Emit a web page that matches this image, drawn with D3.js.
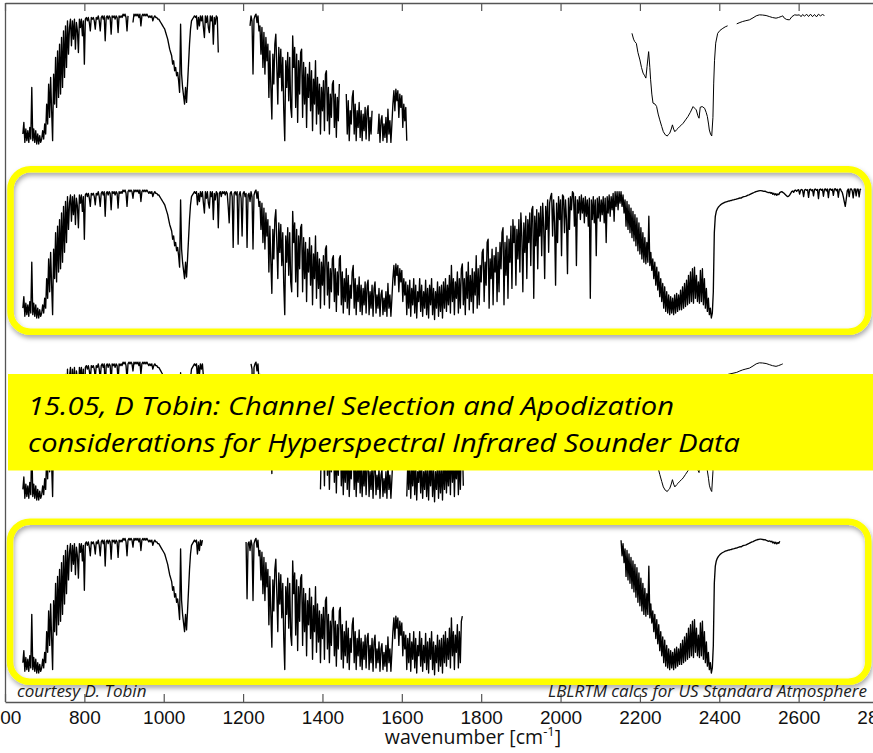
<!DOCTYPE html>
<html>
<head>
<meta charset="utf-8">
<script src="https://cdn.jsdelivr.net/npm/d3@7"></script>
<style>
html,body{margin:0;padding:0;background:#fff;}
svg{display:block;}
</style>
</head>
<body>
<svg id="chart" width="873" height="753"></svg>
<script>
// ---------------- DATA ----------------
const tickValues = [600, 800, 1000, 1200, 1400, 1600, 1800, 2000, 2200, 2400, 2600, 2800];
const axisTitle = "wavenumber [cm";
const bannerLines = [
  "15.05, D Tobin: Channel Selection and Apodization",
  "considerations for Hyperspectral Infrared Sounder Data"
];
const leftNote = "courtesy D. Tobin";
const rightNote = "LBLRTM calcs for US Standard Atmosphere";

// High-resolution brightness temperature spectrum (K), 2.5 cm-1 sampling,
// each segment = [start wavenumber]
const spectrumStep = 2.5;
const segLongwaveCO2 = [645, [222,229,217,225,218,224,217,226,219,250,218,225,217,224,216,222,216,221,217]];
const segRise = [692.5, [219,224,219,228,222,240,228,252,232,256,236,218,258,240,268,238,272,244,276,246,280,250,284,256,287,262,290,270]];
const segWindowEdge = [762.5, [286,291,275,290,279,291,273,289,284,271,291,286,291,281,290,264]];
const segWindow = [802.5, [291,292,290,292,289,284,292,291,292,290,
  285,292,291,293,290,284,292,293,291,293,
  278,292,293,291,293,292,282,293,292,293,
  291,293,292,283,293,292,293,292,294,293,
  294,292,284,293,294,293,294,293,289,294,
  293,294,293,294,292,294,287,293,294,293,
  294,293,294,293,292,293,292,293,290]];
const segOzone = [975, [292,293,292,292,291,291,290,289,288,287,
  286,285,283,281,279,276,273,271,269,264,
  266,260,262,257,259,254,247,288,258,250,
  245,240,250,241,252,264,276,285,290,291,292]];
const segWindow2 = [1077.5, [293,292,293,285,292,287,293,290,293,286,
  280,293,289,293,286,283,293,290,293,276,
  292,288,293,292,271,292,293,290,293,292,
  293,291,293,292]];
const segWindow3 = [1162.5, [284,274,292,293,290,259,292,293,291,293,
  261,291,293,289,266,292,293,290,292,259,
  291,292,287,293,290,258,291,293,294,289,
  293,284]];
const segWater1 = [1242.5, [287,270,286,262,283,258,280,266,276,244,
  272,250,231,270,252,276,282,262,240,274,
  256,273,248,268,236,218,266,250,271,242,
  268,238,232]];
const segWater2 = [1325, [281,262,274,238,270,229,266,246,271,273,
  232,265,240,262,226,258,244,265,236,260,
  224,255,240,266,228,256,234,252,222,250,
  236,254,224]];
const segWater3 = [1407.5, [258,260,230,250,222,246,232,252,254,226,
  246,220,244,230,252,254,224,244,219,240,
  226,246,222,242,218,236,228,244,248,222,
  240,218,236,226,241,220,236,218,234,224,
  238,219,236,239,218,232,222,236,217,234,
  238,219,230,222,234,217,230,233,218,228,
  220,232,217,237,222,230,217,228]];
const segWaterBump = [1577.5, [240,248,236,249,242,248,232,246,238,245,226,240,230]];
const segWater4 = [1610, [238,218,236,222,239,217,234,224,240,219,
  236,216,232,226,240,220,236,217,232,222,
  239,218,234,216,236,224,240,218,234,215,
  232,222,238,217,235,220,236,216,238,222,
  240]];
const segWater5 = [1712.5, [220,236,224,242,219,248,226,240,218,238,
  228,244,219,240,222,246,249,224,240,218,
  244,228,250,221,242,226,246,219,244,230,
  254,222,246]];
const segWater6 = [1795, [224,248,238,256,258,226,250,236,262,264,
  222,252,240,258,224,254,244,259,226,256,
  232,262,246,268,271,224,262,242,266,228,
  264,250,272,234]];
const segWater7 = [1880, [276,262,272,236,270,252,276,244,280,266,
  232,274,256,278,240,276,262,280,248,282,
  284,228,278,260,282,246,280,266,284,254,
  286,272,240]];
const segWater8 = [1962.5, [284,270,288,256,286,290,292,266,288,274,
  236,286,262,290,276,288,254,291,290,268,
  288,276,243,289,270,290,282,293,292,272,
  290,248,288,280]];
const segCO = [2047.5, [290,276,291,280,289,274,290,278,288,272,
  289,228,288,276,290,274,288,254,289,277,
  290,275,288,279,290,274,289,262,290,280,
  291,278,290,282,292,275,293,284,293,282,
  293,286,293,284,291,280]];
const segN2O = [2162.5, [288,272,287,270,285,268,283,265,281,263,
  279,260,277,257,274,255,271,252,268,250,
  265,249,262,250,278,248,256,245,252,240,
  250,236,247,233,244,229,240,226,237,222,
  235]];
const segCO2sw = [2265, [220,232,219,230,218,229,219,228,218,230,
  219,231,220,230,221,233,221,235,222,237,
  223,239,224,242,225,244,226,246,225,247,
  228,242,226,238,225,245,226,246,224,240,
  222,234,220,228,218,222,216,219]];
const segShortwave = [2385, [232,268,278,281,282.5,283.5,284.2,284.8,285.3,285.7,
  286,286.3,286.6,286.8,287,287.2,287.3,287.5,287.6,287.8,
  288,288.1,288.3,288.4,288.6,288.8,289,289.2,289.1,289.5,
  289.8,290,290.1,290.3,290.6,290.9,291.1,291.4,291.7,292,
  292.2,292.5,292.8,293,293.2,293.4,293.5,293.6,293.6,293.5,
  293.4,293.2,293.3,293,292.8,292.5,292.4,292.6,292,292.4,
  291.4,292,291,291.8,290.8,291.6,291.2,292.4,292.8,293,
  292.6,292.2,291.6,291,290.4,290,290.3,291,292,293,
  293.4,292.6,293.8,294,293.2,294,294.2,291.5,294,294.3,
  293.8,290,294,294.4,293.8,294.2,289.5,294.2,294.5,293.6,
  294.2,290.5,294.4,294.6,293.8,294.4,288.8,294.3,294.6,293.9,
  294.5,290.2,294.4,294.7,293.5,294.6,289.4,294.4,294.7,293.8,
  294.5,290.8,294.6,294.8,293.6,294.5,289.6,294.4,294.7,293.5,
  292.5,290,287,284,288.5,293.5,294.6,290,294.5,294.7,
  293.6,289.2,294.5,294.7,290.4,294.6,294.5,289.8,294.4,294.5]];

// Low-resolution shortwave spectrum (wavenumber, K)
const swLowRes = [
  [2180,282.5],[2184,279],[2187,277.5],[2191,276.5],[2195,271],[2200,266.5],[2204,262],[2208,258.6],
  [2212,257],[2215,255.6],[2218,262.6],[2222,271.5],[2225,262],[2227,254.6],[2230,246],[2233,240.6],
  [2238,240],[2242,238.6],[2246,234],[2250,230.5],[2255,226.5],[2259,223.4],[2264,221.5],[2269,220.8],
  [2272,221.8],[2275,222.4],[2279,225],[2282,227.5],[2285,225],[2288,223.4],[2292,224.5],[2296,225.4],
  [2300,226.5],[2305,227.5],[2309,228.5],[2315,230.5],[2321,232.5],[2327,235],[2334,238.5],[2338,237.5],
  [2342,236.5],[2346,233],[2349,231.5],[2352,238.1],[2357,238.5],[2363,237.5],[2367,235],[2370,232.5],
  [2373,228],[2375,224.4],[2378,222],[2381,220.8],[2384,232],[2386,252.6],[2388,266],[2391,276.6],
  [2396,282.5],[2402,284.3],[2409,285.5],[2415,286.4],[2421,287],
  [2444,288.2],[2452,289],[2459,289.6],[2467,290.1],[2476,290.6],[2485,291.8],[2493,293],[2501,293.6],
  [2509,293.5],[2518,293.2],[2526,292.6],[2534,292],[2543,291.6],[2549,292],[2556,292.6],[2560,293],
  [2564,291.6],[2570,290.8],[2577,290.6],[2583,292.5],[2590,293.6],[2596,293.4],[2602,293.6],[2606,292.5],
  [2610,293.8],[2615,292.8],[2620,294],[2625,292.6],[2630,294],[2635,292.5],[2640,293.8],[2645,292.4],
  [2650,294],[2655,293],[2660,293.8],[2665,293.2]
];

// Spectral bands shown for each instrument panel
const panel1Bands = [[645,910],[922,1137.5],[1217,1443],[1460,1527],[1540,1613]];
const panel1LowResBands = [[2180,2421],[2444,2665]];
const panel2Bands = [[645,2757.5]];
const panel3Bands = [[645,1100],[1220,1302],[1395,1590],[1612,1757]];
const panel3LowResBands = [[2150,2560]];
const panel4Bands = [[645,1097.5],[1207.5,1752.5],[2152.5,2552.5]];

// ---------------- BUILD ----------------
const segments = [segLongwaveCO2, segRise, segWindowEdge, segWindow, segOzone, segWindow2, segWindow3,
  segWater1, segWater2, segWater3, segWaterBump, segWater4, segWater5, segWater6, segWater7, segWater8,
  segCO, segN2O, segCO2sw, segShortwave];
const hiRes = [];
segments.forEach(([start, vals]) => vals.forEach((v, i) => hiRes.push([start + i * spectrumStep, v])));
hiRes.sort((a, b) => a[0] - b[0]);

const W = 873, H = 753;
const svg = d3.select("#chart");
svg.append("rect").attr("width", W).attr("height", H).attr("fill", "#fff");

const defs = svg.append("defs");
const f = defs.append("filter").attr("id", "shadow")
  .attr("x", "-5%").attr("y", "-15%").attr("width", "110%").attr("height", "135%");
f.append("feDropShadow").attr("dx", 1).attr("dy", 3).attr("stdDeviation", 2.5)
  .attr("flood-color", "#000").attr("flood-opacity", 0.35);

const x = d3.scaleLinear().domain([600, 2800]).range([5, 878]);
const btDomain = [210, 300];

const panels = [
  {range: [154, 4.2], bands: panel1Bands, low: panel1LowResBands},
  {range: [327.8, 180.2], bands: panel2Bands, low: []},
  {range: [510.6, 351.5], bands: panel3Bands, low: panel3LowResBands},
  {range: [683.4, 528.1], bands: panel4Bands, low: []}
];

const plot = svg.append("g");
panels.forEach(p => {
  const y = d3.scaleLinear().domain(btDomain).range(p.range);
  const line = d3.line().x(d => x(d[0])).y(d => y(d[1]));
  p.bands.forEach(([lo, hi]) => {
    const pts = hiRes.filter(d => d[0] >= lo && d[0] <= hi);
    plot.append("path").attr("d", line(pts)).attr("fill", "none")
      .attr("stroke", "#000").attr("stroke-width", 1.35).attr("stroke-linejoin", "round");
  });
  p.low.forEach(([lo, hi]) => {
    const pts = swLowRes.filter(d => d[0] >= lo && d[0] <= hi);
    plot.append("path").attr("d", line(pts)).attr("fill", "none")
      .attr("stroke", "#000").attr("stroke-width", 1).attr("stroke-linejoin", "round");
  });
});

// axes
const axisColor = "#555";
const gb = svg.append("g").attr("transform", "translate(0,702)")
  .call(d3.axisBottom(x).tickValues(tickValues).tickSizeInner(-8).tickSizeOuter(0)
    .tickPadding(9).tickFormat(d3.format("d")));
const gt = svg.append("g").attr("transform", "translate(0,3)")
  .call(d3.axisTop(x).tickValues(tickValues).tickSizeInner(-8).tickSizeOuter(0).tickFormat(""));
[gb, gt].forEach(g => {
  g.select(".domain").attr("stroke", axisColor).attr("stroke-width", 1.3);
  g.selectAll(".tick line").attr("stroke", axisColor).attr("stroke-width", 1.2);
});
gb.selectAll(".tick text").attr("fill", "#111")
  .style("font-family", "'Liberation Sans', Arial, sans-serif").style("font-size", "19px");
svg.append("line").attr("x1", 5.5).attr("x2", 5.5).attr("y1", 3).attr("y2", 702)
  .attr("stroke", axisColor).attr("stroke-width", 1.3);

// axis title
const at = svg.append("text").attr("x", 473).attr("y", 744).attr("text-anchor", "middle")
  .style("font-family", "'Open Sans', sans-serif").style("font-size", "19.5px").attr("fill", "#111");
at.append("tspan").text(axisTitle);
at.append("tspan").attr("dy", -8).style("font-size", "13px").text("-1");
at.append("tspan").attr("dy", 8).text("]");

// notes
svg.append("text").attr("x", 17).attr("y", 697).text(leftNote)
  .style("font-family", "'Open Sans', sans-serif").style("font-style", "italic")
  .style("font-size", "17px").attr("fill", "#222");
svg.append("text").attr("x", 867).attr("y", 697).attr("text-anchor", "end").text(rightNote)
  .style("font-family", "'Open Sans', sans-serif").style("font-style", "italic")
  .style("font-size", "17px").attr("fill", "#222");

// yellow highlight boxes
const boxes = [
  {x: 10.5, y: 169.3, w: 857.8, h: 162.4},
  {x: 10, y: 521.7, w: 858.3, h: 160}
];
svg.selectAll(".hl").data(boxes).enter().append("rect").attr("class", "hl")
  .attr("x", d => d.x).attr("y", d => d.y).attr("width", d => d.w).attr("height", d => d.h)
  .attr("rx", 20).attr("ry", 20).attr("fill", "none")
  .attr("stroke", "#FFFF00").attr("stroke-width", 6.5).attr("filter", "url(#shadow)");

// banner
svg.append("rect").attr("x", 8).attr("y", 374).attr("width", 870).attr("height", 96.5).attr("fill", "#FFFF00");
const bannerLens = [646, 712];
bannerLines.forEach((t, i) => {
  svg.append("text").attr("x", 28).attr("y", 414.5 + i * 37).text(t)
    .attr("textLength", bannerLens[i]).attr("lengthAdjust", "spacingAndGlyphs")
    .style("font-family", "'Open Sans', sans-serif").style("font-style", "italic")
    .style("font-size", "25px").attr("fill", "#000");
});
</script>
</body>
</html>
